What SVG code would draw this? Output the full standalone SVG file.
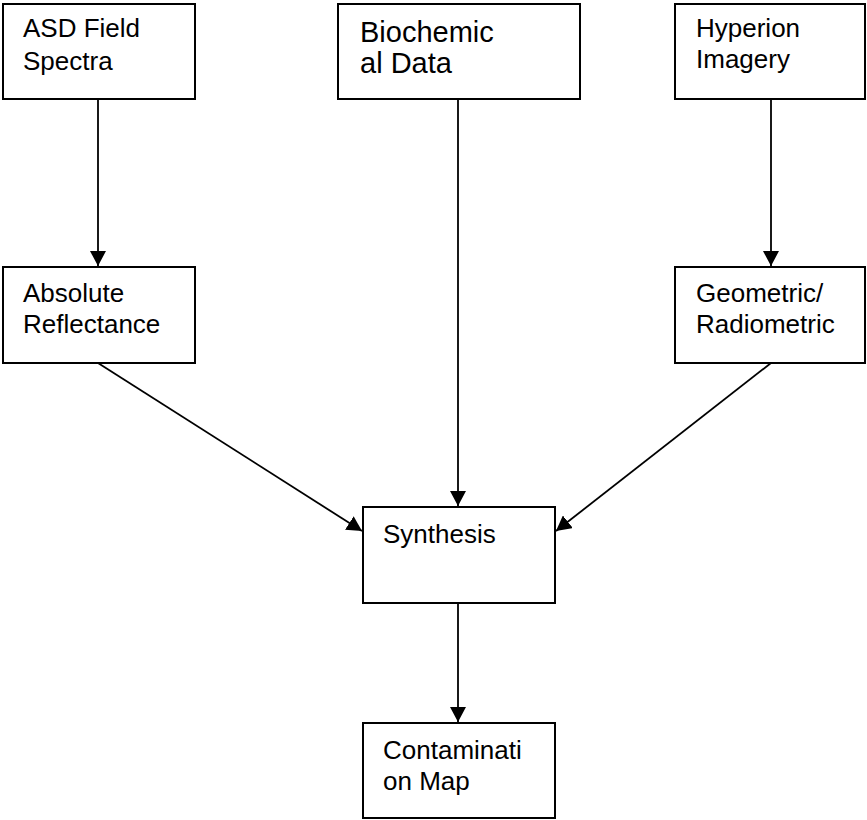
<svg xmlns="http://www.w3.org/2000/svg" width="867" height="820" viewBox="0 0 867 820">
<defs>
<marker id="ah" viewBox="0 0 15 16" refX="15" refY="8" markerWidth="15" markerHeight="16" markerUnits="userSpaceOnUse" orient="auto">
<path d="M0,0 L15,8 L0,16 Z" fill="#000"/>
</marker>
<style>
.box{fill:#fff;stroke:#000;stroke-width:2}
.t{font-family:"Liberation Sans",Arial,sans-serif;font-size:26px;fill:#000}
.c{stroke:#000;stroke-width:1.8;fill:none;marker-end:url(#ah)}
</style>
</defs>
<rect width="867" height="820" fill="#fff"/>
<g id="connectors">
<line class="c" x1="98" y1="99" x2="98" y2="266"/>
<line class="c" x1="458" y1="99" x2="458" y2="506"/>
<line class="c" x1="771" y1="99" x2="771" y2="266"/>
<line class="c" x1="98" y1="363" x2="362" y2="531"/>
<line class="c" x1="771" y1="363" x2="556" y2="531"/>
<line class="c" x1="458" y1="603" x2="458" y2="722"/>
</g>
<g id="asd"><rect class="box" x="3" y="4" width="192" height="95"/><text class="t" x="23" y="37">ASD Field</text><text class="t" x="23" y="70">Spectra</text></g>
<g id="biochem"><rect class="box" x="338" y="4" width="242" height="95"/><text class="t" x="360" y="42" style="font-size:29px">Biochemic</text><text class="t" x="360" y="73" style="font-size:29px">al Data</text></g>
<g id="hyperion"><rect class="box" x="675" y="4" width="190" height="95"/><text class="t" x="696" y="37">Hyperion</text><text class="t" x="696" y="68">Imagery</text></g>
<g id="absolute"><rect class="box" x="3" y="267" width="192" height="96"/><text class="t" x="23" y="302">Absolute</text><text class="t" x="23" y="333">Reflectance</text></g>
<g id="geometric"><rect class="box" x="675" y="267" width="190" height="96"/><text class="t" x="696" y="302">Geometric/</text><text class="t" x="696" y="333">Radiometric</text></g>
<g id="synthesis"><rect class="box" x="363" y="507" width="192" height="96"/><text class="t" x="383" y="543">Synthesis</text></g>
<g id="contamination"><rect class="box" x="363" y="723" width="192" height="95"/><text class="t" x="383" y="759">Contaminati</text><text class="t" x="383" y="790">on Map</text></g>
</svg>
